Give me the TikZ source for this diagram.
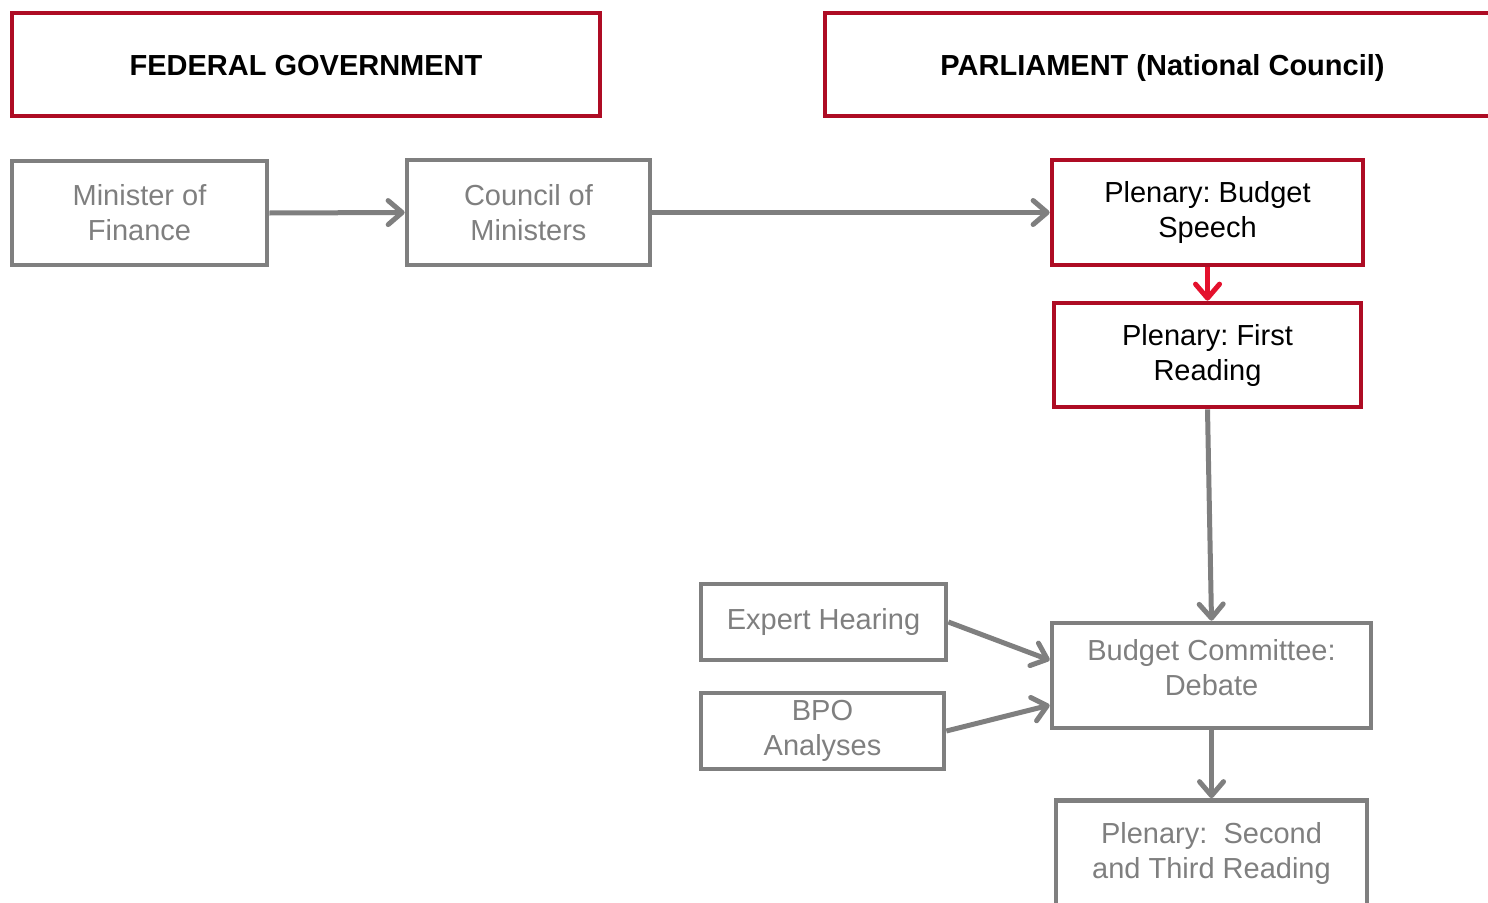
\documentclass[tikz,border=0pt]{standalone}
\usepackage{fontspec}
\setmainfont{Liberation Sans}
\usetikzlibrary{arrows.meta,calc}
\definecolor{dred}{RGB}{174,12,36}
\definecolor{bred}{RGB}{228,17,45}
\definecolor{gr}{RGB}{127,127,127}
\frenchspacing
\tikzset{
  box/.style={draw, line width=4.7pt, inner sep=0pt, align=center, font=\fontsize{29}{35}\selectfont},
  redbox/.style={box, draw=dred, text=black},
  graybox/.style={box, draw=gr, text=gr},
  head/.style={redbox, font=\fontsize{29}{35}\selectfont\bfseries, text height=21pt, text depth=0pt},
  boxtext/.style={inner sep=0pt, align=center, text=gr, font=\fontsize{29}{35}\selectfont},
  conn/.style={draw=gr, line width=5pt, -{Straight Barb[length=14pt,width=24pt,line width=5pt,round]}},
  redconn/.style={conn, draw=bred},
}
\begin{document}
\begin{tikzpicture}[x=1pt,y=-1pt]
\useasboundingbox (0,0) rectangle (1488,902);
\node[head, minimum width=588pt, minimum height=103pt] (fed) at (306,64.5) {FEDERAL GOVERNMENT};
\node[head, minimum width=675pt, minimum height=103pt] (parl) at (1162.5,64.5) {PARLIAMENT (National Council)};
\node[graybox, minimum width=255pt, minimum height=104pt] (mof) at (139.5,213) {Minister of\\Finance};
\node[graybox, minimum width=243pt, minimum height=105pt] (com) at (528.5,212.5) {Council of\\Ministers};
\node[redbox, minimum width=311pt, minimum height=105pt] (speech) at (1207.5,212.5) {Plenary: Budget\\Speech};
\node[redbox, minimum width=307pt, minimum height=104pt] (first) at (1207.5,355) {Plenary: First\\Reading};
\node[graybox, minimum width=245pt, minimum height=76pt] (expert) at (823.5,622) {Expert Hearing};
\node[graybox, minimum width=243pt, minimum height=76pt] (bpo) at (822.5,731) {BPO\\Analyses};
\node[graybox, minimum width=319pt, minimum height=105pt] (comm) at (1211.5,675.5) {};
\node[boxtext] (commtext) at (1211.5,668) {Budget Committee:\\Debate};
\node[graybox, minimum width=311pt, minimum height=105pt] (second) at (1211.5,853) {Plenary:\ \ Second\\and Third Reading};
\draw[conn] (mof.east) -- (com.west);
\draw[conn] (com.east) -- (speech.west);
\draw[redconn] (speech.south) -- (first.north);
\draw[conn] (first.south) -- (comm.north);
\draw[conn] (expert.east) -- ($(comm.north west)!0.36!(comm.south west)$);
\draw[conn] (bpo.east) -- ($(comm.north west)!0.77!(comm.south west)$);
\draw[conn] (comm.south) -- (second.north);
\end{tikzpicture}
\end{document}
